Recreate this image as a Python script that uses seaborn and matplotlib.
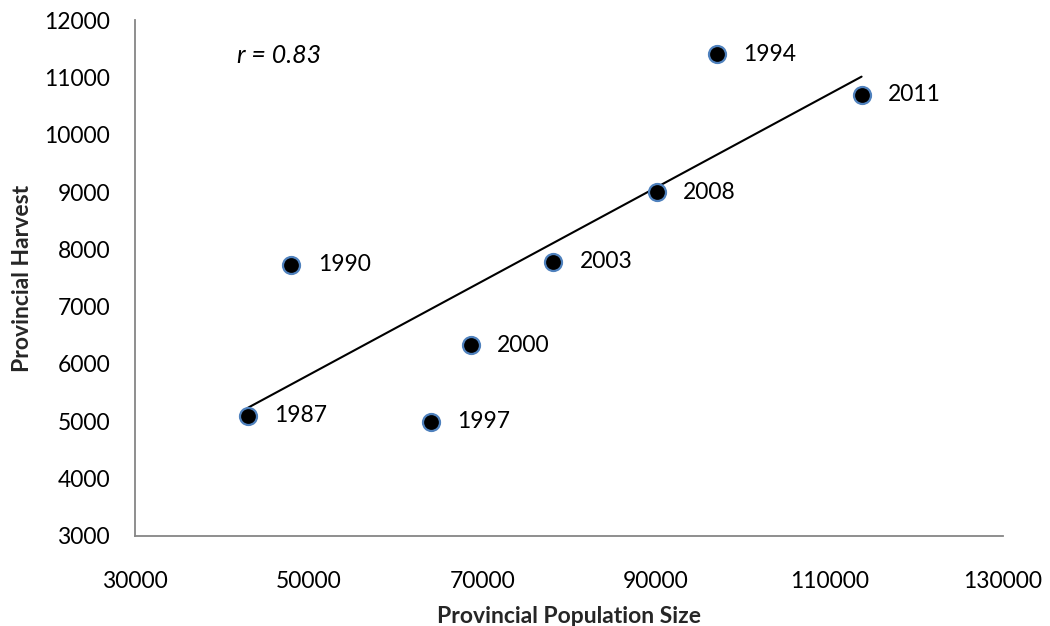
import numpy as np
import pandas as pd
import seaborn as sns
import matplotlib.pyplot as plt

# data
years = ["1987", "1990", "1994", "1997", "2000", "2003", "2008", "2011"]
population = [43000, 48000, 97000, 64100, 68700, 78150, 90100, 113700]
harvest = [5100, 7730, 11400, 4990, 6330, 7780, 9000, 10700]

x_ticks = [30000, 50000, 70000, 90000, 110000, 130000]
y_ticks = [3000, 4000, 5000, 6000, 7000, 8000, 9000, 10000, 11000, 12000]

AXIS_GREY = "#868686"
EDGE_BLUE = "#4F81BD"


def main():
    df = pd.DataFrame({"year": years, "pop": population, "harvest": harvest})

    sns.set_theme(style="white")
    plt.rcParams["font.family"] = ["Lato", "DejaVu Sans"]

    fig = plt.figure(figsize=(10.5, 6.26), dpi=100)
    ax = fig.add_axes([0.1286, 0.1438, 0.8267, 0.8242])

    # linear trendline over the data range
    sns.regplot(data=df, x="pop", y="harvest", ax=ax, scatter=False, ci=None,
                truncate=True, line_kws={"color": "black", "lw": 1.5})
    sns.scatterplot(data=df, x="pop", y="harvest", ax=ax, s=150,
                    color="black", edgecolor=EDGE_BLUE, linewidth=1.6, zorder=3)

    for _, row in df.iterrows():
        ax.annotate(row["year"], (row["pop"], row["harvest"]),
                    xytext=(19, 0), textcoords="offset points",
                    ha="left", va="center", fontsize=16.5, color="black")

    r = np.corrcoef(df["pop"], df["harvest"])[0, 1]
    ax.text(0.1175, 0.932, f"r = {r:.2f}", transform=ax.transAxes,
            ha="left", va="center", fontsize=18, style="italic", color="black")

    ax.set_xlim(30000, 130000)
    ax.set_ylim(3000, 12000)
    ax.set_xticks(x_ticks)
    ax.set_yticks(y_ticks)
    ax.tick_params(axis="both", length=0, labelsize=16.5, colors="black")
    ax.tick_params(axis="x", pad=25)
    ax.tick_params(axis="y", pad=18)

    for side in ["top", "right"]:
        ax.spines[side].set_visible(False)
    for side in ["left", "bottom"]:
        ax.spines[side].set_color(AXIS_GREY)
        ax.spines[side].set_linewidth(1.3)

    ax.set_xlabel("Provincial Population Size", fontsize=16.5, fontweight="bold")
    ax.set_ylabel("Provincial Harvest", fontsize=16.5, fontweight="bold")
    ax.xaxis.set_label_coords(0.5, -0.135)
    ax.yaxis.set_label_coords(-0.118, 0.5)

    fig.savefig("out.png", dpi=100)


if __name__ == '__main__':
    main()
